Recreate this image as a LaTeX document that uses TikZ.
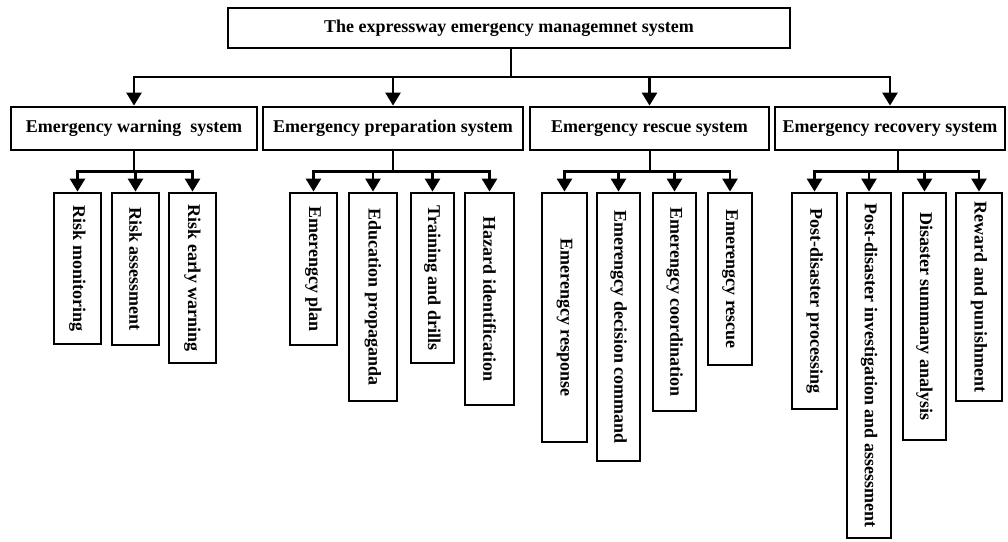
\documentclass[tikz,border=0pt]{standalone}
\usepackage{fontspec}
\setmainfont{Liberation Serif}
\usetikzlibrary{arrows.meta}
\begin{document}
\begin{tikzpicture}[x=1pt,y=-1pt,
  box/.style={draw, line width=2.8pt, inner sep=0pt, font=\fontsize{18}{20}\selectfont\bfseries},
  vbox/.style={box, rotate=-90},
  conn/.style={line width=2.6pt},
  arr/.style={conn, -{Triangle[length=13pt,width=15pt]}}]
\useasboundingbox (0,0) rectangle (1008,541);
% top
\node[box, minimum width=562pt, minimum height=40pt] (top) at (509,28) {The expressway emergency managemnet system};
% level 2
\node[box, minimum width=246pt, minimum height=43pt] (w) at (134,128.5) {Emergency warning\ \ system};
\node[box, minimum width=260pt, minimum height=43pt] (p) at (393,128.5) {Emergency preparation system};
\node[box, minimum width=239pt, minimum height=43pt] (r) at (649.5,128.5) {Emergency rescue system};
\node[box, minimum width=230pt, minimum height=43pt] (c) at (890,128.5) {Emergency recovery system};
% level 3
\node[vbox, minimum width=151pt, minimum height=47pt] (w1) at (77.5,268.5) {Risk monitoring};
\node[vbox, minimum width=152pt, minimum height=47pt] (w2) at (135.5,269) {Risk assessment};
\node[vbox, minimum width=170pt, minimum height=47pt] (w3) at (192.5,278) {Risk early warning};
\node[vbox, minimum width=152pt, minimum height=47pt] (p1) at (313.5,269) {Emerengcy plan};
\node[vbox, minimum width=208pt, minimum height=48pt] (p2) at (373,297) {Education propaganda};
\node[vbox, minimum width=170pt, minimum height=43pt] (p3) at (432.5,278) {Training and drills};
\node[vbox, minimum width=212pt, minimum height=49pt] (p4) at (489.5,299) {Hazard identification};
\node[vbox, minimum width=249pt, minimum height=45pt] (r1) at (564.5,317.5) {Emerengcy response};
\node[vbox, minimum width=268pt, minimum height=43pt] (r2) at (618.5,327) {Emerengcy decision command};
\node[vbox, minimum width=218pt, minimum height=43pt] (r3) at (674.5,302) {Emerengcy coordination};
\node[vbox, minimum width=172pt, minimum height=44pt] (r4) at (730,279) {Emerengcy rescue};
\node[vbox, minimum width=216pt, minimum height=45pt] (c1) at (814.5,301) {Post-disaster processing};
\node[vbox, minimum width=345pt, minimum height=44pt] (c2) at (869,365.5) {Post-disaster investigation and assessment};
\node[vbox, minimum width=247pt, minimum height=43pt] (c3) at (924.5,316.5) {Disaster summany analysis};
\node[vbox, minimum width=208pt, minimum height=46pt] (c4) at (979,297) {Reward and punishment};
% connectors level 1 -> 2
\coordinate (bus) at (511,77);
\draw[conn] (bus |- top.south) -- (bus);
\draw[arr] (bus) -| (w.north);
\draw[arr] (bus) -| (p.north);
\draw[arr] (bus) -| (r.north);
\draw[arr] (bus) -| (c.north);
% connectors level 2 -> 3
\coordinate (jw) at (134,171.5);
\coordinate (jp) at (393,171.5);
\coordinate (jr) at (650,171.5);
\coordinate (jc) at (898,171.5);
\draw[conn] (jw |- w.south) -- (jw);
\draw[conn] (jp |- p.south) -- (jp);
\draw[conn] (jr |- r.south) -- (jr);
\draw[conn] (jc |- c.south) -- (jc);
\foreach \j/\n in {jw/w1,jw/w2,jw/w3,jp/p1,jp/p2,jp/p3,jp/p4,jr/r1,jr/r2,jr/r3,jr/r4,jc/c1,jc/c2,jc/c3,jc/c4}
  \draw[arr] (\j) -| (\n.west);
\end{tikzpicture}
\end{document}
